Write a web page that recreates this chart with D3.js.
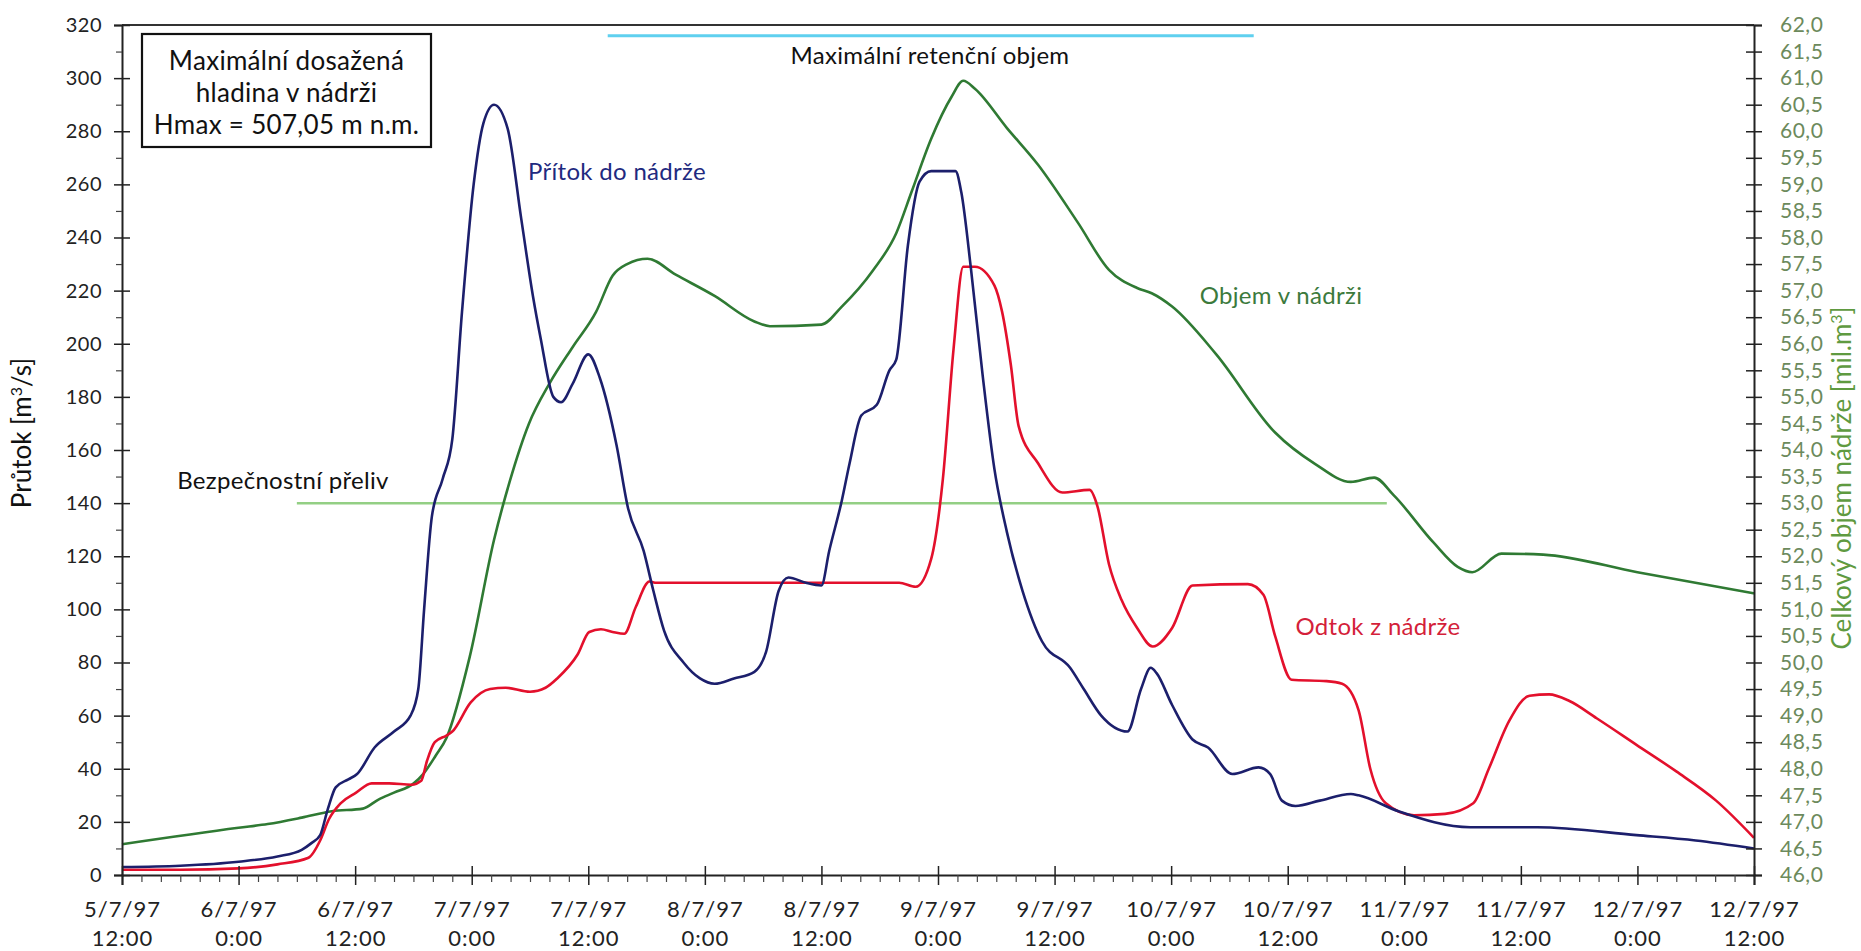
<!DOCTYPE html>
<html><head><meta charset="utf-8">
<script src="https://cdn.jsdelivr.net/npm/d3@7"></script>
<style>
html,body{margin:0;padding:0;background:#fff;}
svg{display:block;font-family:Lato,"Noto Sans",sans-serif;}
</style></head>
<body>
<svg id="c" width="1861" height="951"></svg>
<script>
// ---- data (time in hours after 5/7/97 12:00) ----
const xTickHours = [0,12,24,36,48,60,72,84,96,108,120,132,144,156,168];
const xTickDates = ["5/7/97","6/7/97","6/7/97","7/7/97","7/7/97","8/7/97","8/7/97","9/7/97","9/7/97","10/7/97","10/7/97","11/7/97","11/7/97","12/7/97","12/7/97"];
const xTickTimes = ["12:00","0:00","12:00","0:00","12:00","0:00","12:00","0:00","12:00","0:00","12:00","0:00","12:00","0:00","12:00"];
const leftTicks = d3.range(0, 321, 20);
const rightTicks = d3.range(46, 62.01, 0.5);

const inflowT = [0,6,12,16,18.5,19.5,20.4,21.2,22,23.3,24.2,26,28,29.7,30.5,31.1,31.9,33,34,35,36.2,37.2,38.3,39.7,41.1,42.3,43.1,44.4,45.2,46.4,48,49.2,50.9,52.1,53.7,54.7,55.8,57.8,59.5,61,63,65.1,66.3,67.6,68.6,70.4,72,72.8,74.1,74.9,76.1,77.7,79,79.7,80.9,82.1,83.3,85.8,86.4,87.4,88.6,89.8,91.1,92.7,94.7,97.6,99,100.8,103.5,104.9,105.9,106.5,108.1,110.2,111.8,114.3,117,118.2,119.4,120.8,123.3,126.5,127.3,131.4,138.8,145.7,155.9,162,168];
const inflowQ = [3,3.5,5,7,9.5,12,15,25,33,36,38,48,54,60,70,100,135,149,164,212,260,283,290,281,247,218,202,180,178,185,196,187,162,138,122,107,92,80,74,72,74,76.5,84,107,112,110,109,122,141,155,173,177,190,194,237,261,265,265,257,228,188,153,129,107,88,78,70,60,54,70,78,76,64,51,48,38,40.5,38,28,26,28,30.5,30,24,18,18,15,13,10];

const outflowT = [0,6,12,16,19.2,20.4,21.3,22.5,24.1,25.7,27.5,29.8,30.8,31.4,32.2,33.4,34,35.9,37.9,39.5,42,43.6,44.8,46.9,48.1,49.3,50.5,51.7,52.9,54.3,55,70,80,81.7,83.3,84.5,85.6,86.6,87.8,89.8,90.6,91.5,92.3,94.3,96.8,99.6,100.4,101.6,102.9,104.5,106.1,108.1,110.2,115.9,117.5,118.7,120.4,124,125.6,127.3,128.5,130.1,133,136.2,139.1,140.7,142.8,144.9,146.9,149,151.8,155.9,160,164.1,168];
const outflowQ = [2,2,2.5,4,6.5,13,21,27,31,34.5,34.5,34,35.5,43,50,52.5,54,65,70,70.5,69,70.5,74,83,91.5,92.5,91.5,90.8,101,110.5,110,110,110,108.5,119,149,198,229,229,222,212,192,169,155,144,145,139,117,103.5,93,86,93,109,109.5,105.5,90,73.5,73,72,62,40,27,22.5,23,27,40,58,67.5,68,65.5,59,49,39,28,14];

const volumeT = [0,12,15,18.5,21.6,24.8,26.4,28,30,31,32.3,33.4,35.8,38.3,39.9,41.9,44,46.4,48.8,50.5,52,54.1,57,61,65.1,66.7,72,74.1,77.3,79.7,81.3,83.3,85.4,86.6,87.8,91.1,94.3,98.4,101.6,104.5,106,108.1,112.6,118.7,122.8,126.5,128.9,130.9,135,137.5,139,142,146.3,156,168];
const volumeV = [46.58,46.89,46.96,47.08,47.2,47.25,47.42,47.55,47.72,47.9,48.25,48.58,50.11,52.31,53.4,54.5,55.25,55.94,56.6,57.28,57.5,57.6,57.3,56.9,56.42,56.33,56.36,56.7,57.38,58.08,58.87,59.86,60.65,60.95,60.8,60.06,59.37,58.28,57.39,57.05,56.95,56.7,55.81,54.33,53.74,53.4,53.48,53.15,52.26,51.8,51.7,52.05,52.03,51.7,51.3];

const spillwayVolume = 53.0, spillwayFrom = 18, spillwayTo = 130.2;
const retentionVolume = 61.8, retentionFrom = 50, retentionTo = 116.5;

const svg = d3.select("#c");
const x = d3.scaleLinear().domain([0,168]).range([122,1754]);
const yQ = d3.scaleLinear().domain([0,320]).range([875,25]);
const yV = d3.scaleLinear().domain([46,62]).range([875,25]);

const fmtComma = d => d3.format(".1f")(d).replace(".", ",");

// frame top line
svg.append("line").attr("x1",x(0)).attr("x2",x(168)).attr("y1",yQ(320)).attr("y2",yQ(320))
  .attr("stroke","#333").attr("stroke-width",2);

// reference lines
svg.append("line").attr("x1",x(retentionFrom)).attr("x2",x(retentionTo))
  .attr("y1",yV(retentionVolume)).attr("y2",yV(retentionVolume))
  .attr("stroke","#5fd0ef").attr("stroke-width",3);
svg.append("line").attr("x1",x(spillwayFrom)).attr("x2",x(spillwayTo))
  .attr("y1",yV(spillwayVolume)).attr("y2",yV(spillwayVolume))
  .attr("stroke","#93cf84").attr("stroke-width",2.5);

// series
const mk = (T,V,ys) => T.map((t,i)=>[x(t), ys(V[i])]);
const lineGen = d3.line().curve(d3.curveMonotoneX);
svg.append("path").attr("d", lineGen(mk(volumeT,volumeV,yV))).attr("fill","none")
  .attr("stroke","#2f7a33").attr("stroke-width",2.6);
svg.append("path").attr("d", lineGen(mk(outflowT,outflowQ,yQ))).attr("fill","none")
  .attr("stroke","#e3102c").attr("stroke-width",2.6);
svg.append("path").attr("d", lineGen(mk(inflowT,inflowQ,yQ))).attr("fill","none")
  .attr("stroke","#1c1f6c").attr("stroke-width",2.6);

// left axis
const gL = svg.append("g").attr("transform",`translate(${x(0)},0)`)
  .call(d3.axisLeft(yQ).tickValues(leftTicks).tickSize(8).tickPadding(12));
gL.selectAll(".tick line").attr("x1",8).attr("stroke","#222").attr("stroke-width",1.5);
gL.select(".domain").attr("stroke","#222").attr("stroke-width",2);
gL.selectAll("text").attr("font-size",20).attr("fill","#222").style("font-family","Lato")
  .attr("letter-spacing",0.5);
const gLm = svg.append("g").attr("transform",`translate(${x(0)},0)`)
  .call(d3.axisLeft(yQ).tickValues(d3.range(10,320,20)).tickSize(6).tickFormat(""));
gLm.select(".domain").remove();
gLm.selectAll(".tick line").attr("stroke","#444").attr("stroke-width",1.2);

// right axis
const gR = svg.append("g").attr("transform",`translate(${x(168)},0)`)
  .call(d3.axisRight(yV).tickValues(rightTicks).tickSize(8).tickPadding(18).tickFormat(fmtComma));
gR.selectAll(".tick line").attr("x1",-8).attr("stroke","#222").attr("stroke-width",1.5);
gR.select(".domain").attr("stroke","#222").attr("stroke-width",2);
gR.selectAll("text").attr("font-size",21).attr("fill","#6c8a5c").style("font-family","Lato")
  .attr("letter-spacing",0.5);

// bottom axis
const gB = svg.append("g").attr("transform",`translate(0,${yQ(0)})`)
  .call(d3.axisBottom(x).tickValues(xTickHours).tickSize(10).tickFormat(""));
gB.selectAll(".tick line").attr("y1",-9).attr("stroke","#222").attr("stroke-width",1.5);
gB.select(".domain").attr("stroke","#222").attr("stroke-width",2);
const gBm = svg.append("g").attr("transform",`translate(0,${yQ(0)})`)
  .call(d3.axisBottom(x).tickValues(d3.range(0,168,2).filter(h=>h%12!==0)).tickSize(7).tickFormat(""));
gBm.select(".domain").remove();
gBm.selectAll(".tick line").attr("stroke","#444").attr("stroke-width",1.2);
gB.selectAll(".tick").each(function(d,i){
  const t = d3.select(this).append("text").attr("text-anchor","middle")
    .attr("font-size",22).attr("letter-spacing",1).attr("fill","#222").style("font-family","Lato");
  t.append("tspan").attr("x",0).attr("y",42).text(xTickDates[i]);
  t.append("tspan").attr("x",0).attr("y",71).text(xTickTimes[i]);
});

// axis titles
svg.append("text").attr("transform","translate(31,433) rotate(-90)").attr("text-anchor","middle")
  .attr("font-size",26).attr("fill","#111")
  .html('Průtok [m<tspan baseline-shift="super" font-size="16">3</tspan>/s]');
svg.append("text").attr("transform","translate(1851,478) rotate(-90)").attr("text-anchor","middle")
  .attr("font-size",26).attr("fill","#5f9a40")
  .html('Celkový objem nádrže [mil.m<tspan baseline-shift="super" font-size="16">3</tspan>]');

// info box
svg.append("rect").attr("x",142).attr("y",34).attr("width",289).attr("height",113)
  .attr("fill","#fff").attr("stroke","#111").attr("stroke-width",2.2);
const boxLines = ["Maximální dosažená","hladina v nádrži","Hmax = 507,05 m n.m."];
boxLines.forEach((s,i)=>svg.append("text").attr("x",286.5).attr("y",70+i*32)
  .attr("text-anchor","middle").attr("font-size",26).attr("letter-spacing",0.3).attr("fill","#111").text(s));

// series labels
const labels = [
  {t:"Maximální retenční objem", x:930, y:64, c:"#111"},
  {t:"Přítok do nádrže", x:617, y:180, c:"#1f2a80"},
  {t:"Bezpečnostní přeliv", x:283, y:489, c:"#111"},
  {t:"Objem v nádrži", x:1281, y:304, c:"#3c7a3c"},
  {t:"Odtok z nádrže", x:1378, y:635, c:"#d41f3a"}
];
labels.forEach(l=>svg.append("text").attr("x",l.x).attr("y",l.y).attr("text-anchor","middle")
  .attr("font-size",24).attr("letter-spacing",0.3).attr("fill",l.c).text(l.t));
</script>
</body></html>
